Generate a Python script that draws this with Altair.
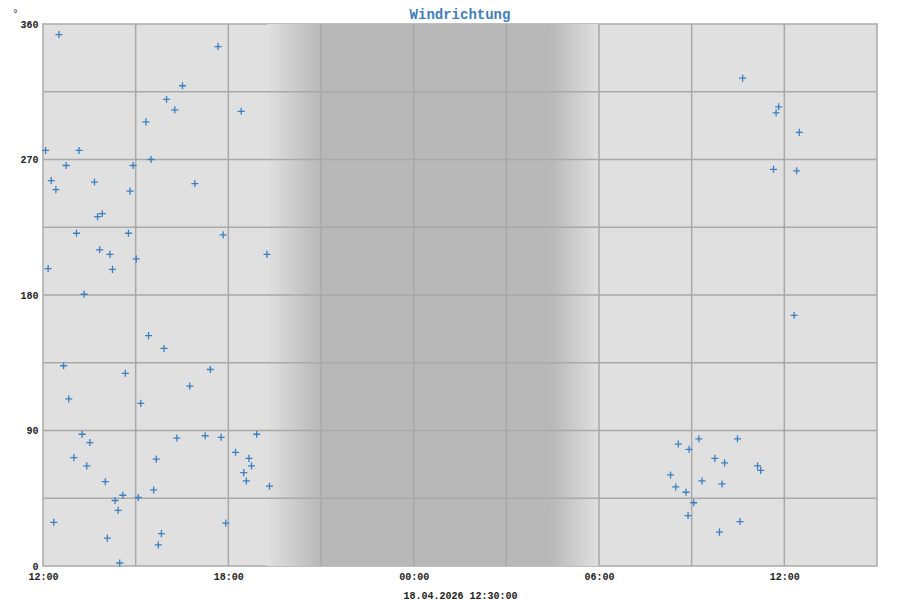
import altair as alt
import pandas as pd

# ---- data ----
times = [
    "2026-04-17T12:31", "2026-04-17T15:20", "2026-04-17T12:05", "2026-04-17T13:10", "2026-04-17T15:30",
    "2026-04-17T12:45", "2026-04-17T14:55", "2026-04-17T12:16", "2026-04-17T13:40", "2026-04-17T12:25",
    "2026-04-17T14:49", "2026-04-17T13:55", "2026-04-17T13:46", "2026-04-17T13:05", "2026-04-17T14:46",
    "2026-04-17T13:50", "2026-04-17T14:10", "2026-04-17T15:01", "2026-04-17T12:10", "2026-04-17T14:15",
    "2026-04-17T13:20", "2026-04-17T17:40", "2026-04-17T16:31", "2026-04-17T16:00", "2026-04-17T16:16",
    "2026-04-17T18:25", "2026-04-17T16:55", "2026-04-17T17:50", "2026-04-17T19:15", "2026-04-17T15:25",
    "2026-04-17T12:40", "2026-04-17T14:40", "2026-04-17T12:50", "2026-04-17T15:10", "2026-04-17T13:16",
    "2026-04-17T13:31", "2026-04-17T13:00", "2026-04-17T15:40", "2026-04-17T13:25", "2026-04-17T14:01",
    "2026-04-17T15:35", "2026-04-17T14:35", "2026-04-17T14:20", "2026-04-17T15:05", "2026-04-17T14:26",
    "2026-04-17T12:21", "2026-04-17T14:05", "2026-04-17T14:29", "2026-04-17T15:44", "2026-04-17T15:50",
    "2026-04-17T15:55", "2026-04-17T17:25", "2026-04-17T16:45", "2026-04-17T16:20", "2026-04-17T17:15",
    "2026-04-17T17:46", "2026-04-17T18:55", "2026-04-17T18:14", "2026-04-17T18:40", "2026-04-17T18:45",
    "2026-04-17T18:30", "2026-04-17T18:35", "2026-04-17T19:20", "2026-04-17T17:55",
    "2026-04-18T08:34", "2026-04-18T09:14", "2026-04-18T10:29", "2026-04-18T08:55", "2026-04-18T09:45",
    "2026-04-18T10:04", "2026-04-18T11:08", "2026-04-18T11:14", "2026-04-18T08:19", "2026-04-18T09:20",
    "2026-04-18T09:59", "2026-04-18T08:29", "2026-04-18T08:49", "2026-04-18T09:04", "2026-04-18T08:53",
    "2026-04-18T10:34", "2026-04-18T09:54", "2026-04-18T10:39", "2026-04-18T11:49", "2026-04-18T11:44",
    "2026-04-18T12:29", "2026-04-18T11:39", "2026-04-18T12:24", "2026-04-18T12:19",
]
directions = [
    353, 295, 276, 276, 270,
    266, 266, 256, 255, 250,
    249, 234, 232, 221, 221,
    210, 207, 204, 197.5, 197,
    180.5, 345, 319, 310, 303,
    302, 254, 220, 207, 153,
    133, 128, 111, 108, 87.5,
    82, 72, 71, 66.5, 56,
    50.5, 47, 43.5, 45.5, 37,
    29, 18.5, 2, 14, 21.5,
    144.5, 130.5, 119.5, 85, 86.5,
    85.5, 87.5, 75.5, 71.5, 66.5,
    62, 56.5, 53, 28.5,
    81, 84.5, 84.5, 77.5, 71.5,
    68.5, 66.5, 63.5, 60.5, 56.5,
    54.5, 52.5, 49, 42, 33.5,
    29.5, 22.5, 324, 305, 301,
    288, 263.5, 262.5, 166.5,
]

# night shading: dusk fade, full night, dawn fade
dusk_start, night_start = "2026-04-17T19:15", "2026-04-17T21:00"
night_end, dawn_end = "2026-04-18T04:25", "2026-04-18T06:00"

x_domain_start, x_domain_end = "2026-04-17T12:00", "2026-04-18T15:00"
x_label_times = ["2026-04-17T12:00", "2026-04-17T18:00", "2026-04-18T00:00",
                 "2026-04-18T06:00", "2026-04-18T12:00"]
x_grid_times = ["2026-04-17T15:00", "2026-04-17T18:00", "2026-04-17T21:00", "2026-04-18T00:00",
                "2026-04-18T03:00", "2026-04-18T06:00", "2026-04-18T09:00", "2026-04-18T12:00"]
y_labels = [0, 90, 180, 270, 360]
y_grid = [45, 90, 135, 180, 225, 270, 315]

title_text = "Windrichtung"
x_title = "18.04.2026 12:30:00"
y_unit = "°"

# ---- styles ----
LIGHT = "#e0e0e0"
DARK = "#b8b8b8"
GRID = "#a9a9a9"
BLUE = "#3a7fc1"
FONT = "Liberation Mono"


def dt(s):
    d, t = s.split("T")
    y, m, dd = [int(v) for v in d.split("-")]
    hh, mm = [int(v) for v in t.split(":")]
    return alt.DateTime(year=y, month=m, date=dd, hours=hh, minutes=mm)


pts = pd.DataFrame({"t": times, "dir": directions})
xscale = alt.Scale(domain=[dt(x_domain_start), dt(x_domain_end)])
yscale = alt.Scale(domain=[0, 360], nice=False, zero=False)

x_axis = alt.Axis(values=[dt(s) for s in x_label_times], format="%H:%M", grid=False, ticks=False,
                  domain=False, labelFont=FONT, labelFontWeight="bold", labelFontSize=10,
                  labelColor="#222222", labelPadding=5, labelOverlap=False, labelFlush=False,
                  title=x_title, titleFont=FONT, titleFontSize=10, titleFontWeight="bold",
                  titleColor="#222222", titlePadding=9)
y_axis = alt.Axis(values=y_labels, grid=False, ticks=False, domain=False, labelFont=FONT,
                  labelFontWeight="bold", labelFontSize=10, labelColor="#222222", labelPadding=5,
                  labelOverlap=False, labelFlush=False,
                  title=y_unit, titleAngle=0, titleX=-31, titleY=-11, titleAlign="left",
                  titleBaseline="middle", titleFont=FONT, titleFontSize=10, titleFontWeight="normal",
                  titleColor="#222222")

fade_in = alt.LinearGradient(gradient="linear", x1=0, x2=1, y1=0, y2=0,
                             stops=[alt.GradientStop(color=LIGHT, offset=0),
                                    alt.GradientStop(color=DARK, offset=1)])
fade_out = alt.LinearGradient(gradient="linear", x1=0, x2=1, y1=0, y2=0,
                              stops=[alt.GradientStop(color=DARK, offset=0),
                                     alt.GradientStop(color=LIGHT, offset=1)])

dusk = alt.Chart(pd.DataFrame({"a": [dusk_start], "b": [night_start]})).mark_rect(fill=fade_in).encode(
    x=alt.X("a:T", scale=xscale, axis=x_axis), x2="b:T")
night = alt.Chart(pd.DataFrame({"a": [night_start], "b": [night_end]})).mark_rect(fill=DARK).encode(
    x=alt.X("a:T", scale=xscale), x2="b:T")
dawn = alt.Chart(pd.DataFrame({"a": [night_end], "b": [dawn_end]})).mark_rect(fill=fade_out).encode(
    x=alt.X("a:T", scale=xscale), x2="b:T")

vgrid = alt.Chart(pd.DataFrame({"g": x_grid_times})).mark_rule(color=GRID, strokeWidth=1.5).encode(
    x=alt.X("g:T", scale=xscale))
hgrid = alt.Chart(pd.DataFrame({"v": y_grid})).mark_rule(color=GRID, strokeWidth=1.5).encode(
    y=alt.Y("v:Q", scale=yscale))

points = alt.Chart(pts).mark_point(shape="M-1,0L1,0M0,-1L0,1", filled=False, color=BLUE,
                                   strokeWidth=1.3, size=50, opacity=1).encode(
    x=alt.X("t:T", scale=xscale),
    y=alt.Y("dir:Q", scale=yscale, axis=y_axis),
)

chart = alt.layer(dusk, night, dawn, vgrid, hgrid, points).properties(
    width=834, height=542,
    background="white",
    title=alt.TitleParams(title_text, font=FONT, fontSize=14, fontWeight="bold", color="#3d7fbf",
                          anchor="middle", frame="group", offset=0, dy=14),
    autosize=alt.AutoSizeParams(type="none"),
    padding={"left": 35, "top": 16, "right": 15, "bottom": 34},
).configure_view(fill=LIGHT, stroke=GRID, strokeWidth=1.5)

chart.save("out.html", embed_options={"renderer": "svg", "actions": False})
